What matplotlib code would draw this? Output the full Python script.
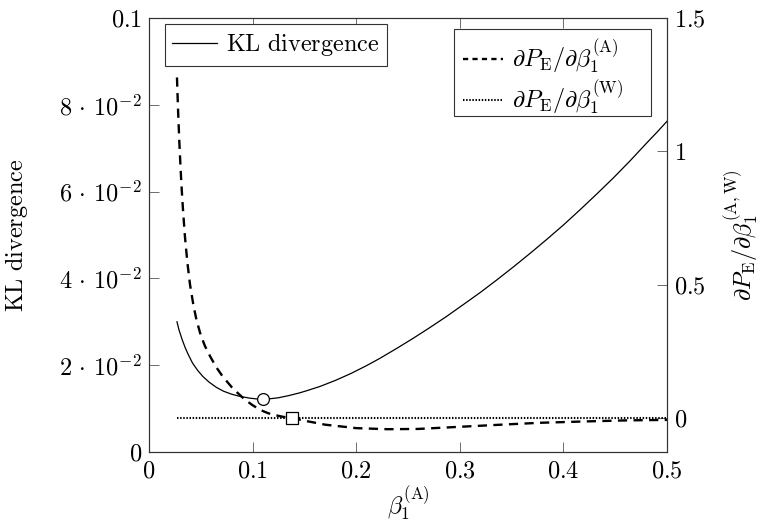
import matplotlib
matplotlib.use("Agg")
import matplotlib.pyplot as plt
from matplotlib.lines import Line2D
from matplotlib.patches import Rectangle

plt.rcParams['font.family'] = 'serif'
plt.rcParams['font.serif'] = ['cmr10', 'DejaVu Serif']
plt.rcParams['mathtext.fontset'] = 'cm'
plt.rcParams['axes.unicode_minus'] = False

# ---------------- data ----------------
kl_x = [0.027, 0.029, 0.032, 0.035, 0.038, 0.042, 0.047, 0.052, 0.058, 0.065,
        0.072, 0.080, 0.088, 0.0975, 0.105, 0.110, 0.118, 0.125, 0.135, 0.145,
        0.152, 0.165, 0.180, 0.195, 0.210, 0.223, 0.240, 0.255, 0.270, 0.287,
        0.303, 0.320, 0.336, 0.352, 0.368, 0.384, 0.400, 0.416, 0.432, 0.448,
        0.464, 0.480, 0.490, 0.500]
kl_y = [0.0300, 0.0281, 0.0259, 0.0240, 0.0224, 0.0205, 0.0188, 0.0174, 0.0161, 0.0149,
        0.0140, 0.0133, 0.0128, 0.0124, 0.0122, 0.0122, 0.0123, 0.0125, 0.0130, 0.0136,
        0.0141, 0.0151, 0.0165, 0.0181, 0.0199, 0.0216, 0.0240, 0.0262, 0.0285, 0.0312,
        0.0339, 0.0368, 0.0397, 0.0427, 0.0458, 0.0490, 0.0523, 0.0558, 0.0594, 0.0631,
        0.0670, 0.0711, 0.0736, 0.0762]

dA_x = [0.027, 0.028, 0.0293, 0.0305, 0.0316, 0.033, 0.0347, 0.037, 0.0396, 0.043,
        0.046, 0.050, 0.054, 0.0589, 0.065, 0.070, 0.075, 0.080, 0.085, 0.090,
        0.095, 0.100, 0.105, 0.110, 0.115, 0.120, 0.130, 0.138, 0.150, 0.170,
        0.200, 0.230, 0.260, 0.300, 0.340, 0.377, 0.420, 0.460, 0.500]
dA_y = [1.277, 1.160, 1.033, 0.935, 0.855, 0.770, 0.680, 0.585, 0.500, 0.420,
        0.365, 0.310, 0.270, 0.232, 0.190, 0.162, 0.138, 0.115, 0.096, 0.078,
        0.062, 0.048, 0.036, 0.026, 0.018, 0.012, 0.004, 0.000, -0.010, -0.025,
        -0.038, -0.042, -0.041, -0.033, -0.025, -0.018, -0.013, -0.009, -0.007]

dW_x = [0.027, 0.500]
dW_y = [0.0, 0.0]

kl_min = (0.110, 0.0122)
dA_zero = (0.138, 0.0)

x_ticks = [0, 0.1, 0.2, 0.3, 0.4, 0.5]
x_ticklabels = [r'$0$', r'$0.1$', r'$0.2$', r'$0.3$', r'$0.4$', r'$0.5$']
left_ticks = [0, 0.02, 0.04, 0.06, 0.08, 0.1]
left_ticklabels = [r'$0$', r'$2\,\cdot\,10^{-2}$', r'$4\,\cdot\,10^{-2}$',
                   r'$6\,\cdot\,10^{-2}$', r'$8\,\cdot\,10^{-2}$', r'$0.1$']
right_ticks = [0, 0.5, 1, 1.5]
right_ticklabels = [r'$0$', r'$0.5$', r'$1$', r'$1.5$']

# ---------------- figure ----------------
fs = 17.5
W, H = 762, 525
fig = plt.figure(figsize=(W/100, H/100), dpi=100)
ax = fig.add_axes([149/W, 1-452/H, (667-149)/W, (452-18)/H])
ax2 = ax.twinx()

ax.plot(kl_x, kl_y, color='black', lw=0.9, zorder=3)
ax.plot([kl_min[0]], [kl_min[1]], marker='o', ms=8.5, mfc='white', mec='black', mew=0.9,
        zorder=5)

ax2.plot(dA_x, dA_y, color='black', lw=1.7, dashes=(3.9, 2.7), zorder=3)
ax2.plot(dW_x, dW_y, color='black', lw=1.5, dashes=(0.7, 0.8), zorder=3)
ax2.plot([dA_zero[0]], [dA_zero[1]], marker='s', ms=8, mfc='white', mec='black', mew=0.9,
         zorder=5)

ax.set_xlim(0, 0.5)
ax.set_ylim(0, 0.1)
ax2.set_ylim(-0.1275, 1.5)

ax.set_xticks(x_ticks)
ax.set_xticklabels(x_ticklabels, fontsize=fs)
ax.set_yticks(left_ticks)
ax.set_yticklabels(left_ticklabels, fontsize=fs)
ax2.set_yticks(right_ticks)
ax2.set_yticklabels(right_ticklabels, fontsize=fs)

ax.tick_params(axis='x', direction='in', length=7, width=0.6, color='#555555',
               top=True, pad=6)
ax.tick_params(axis='y', direction='in', length=7, width=0.6, color='#555555',
               right=False, pad=5)
ax2.tick_params(axis='y', direction='in', length=7, width=0.6, color='#555555', pad=5)

for a in (ax, ax2):
    for s in a.spines.values():
        s.set_linewidth(0.8)
        s.set_color('#333333')

ax.set_xlabel(r'$\beta_1^{(\mathrm{A})}$', fontsize=fs, labelpad=2)
ax.set_ylabel(r'$\mathrm{KL\ divergence}$', fontsize=fs, labelpad=21)
ax2.set_ylabel(r'$\partial P_\mathrm{E}/\partial\beta_1^{(\mathrm{A,W})}$', fontsize=fs,
               labelpad=12)

h1 = [Line2D([], [], color='black', lw=0.9)]
leg1 = ax.legend(h1, [r'$\mathrm{KL\ divergence}$'], loc='upper left',
                 bbox_to_anchor=((165-149)/518, (452-24)/434),
                 fontsize=fs, frameon=True, fancybox=False, framealpha=1,
                 edgecolor='#333333', borderpad=0.3, handlelength=1.85,
                 handletextpad=0.35, borderaxespad=0)
leg1.get_frame().set_linewidth(0.8)
leg1.set_zorder(10)

# frame of the second legend (box 454..651 x 29..116 px)
box = Rectangle((454/W, 1-116/H), (651-454)/W, (116-29)/H, transform=fig.transFigure,
                facecolor='white', edgecolor='#333333', lw=0.8, zorder=9)
ax2.add_patch(box)

h2 = [Line2D([], [], color='black', lw=1.7, dashes=(2.2, 1.8)),
      Line2D([], [], color='black', lw=1.5, dashes=(0.7, 0.8))]
leg2 = ax2.legend(h2, [r'$\partial P_\mathrm{E}/\partial\beta_1^{(\mathrm{A})}$',
                       r'$\partial P_\mathrm{E}/\partial\beta_1^{(\mathrm{W})}$'],
                  loc='upper left',
                  bbox_to_anchor=((454-149)/518, (452-29)/434),
                  fontsize=fs, frameon=False, borderpad=0.37, handlelength=1.65,
                  handletextpad=0.35, borderaxespad=0, labelspacing=0.1)
leg2.set_zorder(10)

fig.savefig('out.png', dpi=100)
